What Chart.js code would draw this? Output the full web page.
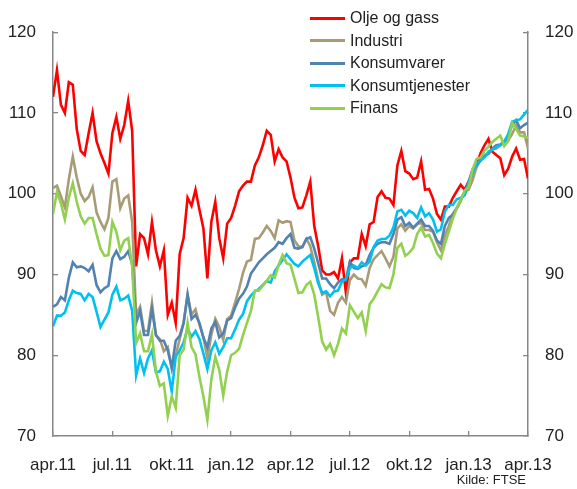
<!DOCTYPE html>
<html>
<head>
<meta charset="utf-8">
<script src="https://cdn.jsdelivr.net/npm/chart.js@4/dist/chart.umd.min.js"></script>
<style>
html,body{margin:0;padding:0;background:#fff;}
#wrap{position:relative;width:577px;height:489px;}
#legend{position:absolute;left:310px;top:7px;font-family:"Liberation Sans",Arial,sans-serif;font-size:16px;color:#222;}
.row{height:22.5px;display:flex;align-items:center;white-space:nowrap;}
.sw{width:35px;height:3px;margin-right:5px;}
#src{position:absolute;right:51px;top:472px;font-family:"Liberation Sans",Arial,sans-serif;font-size:13px;color:#222;}
</style>
</head>
<body>
<div id="wrap">
<canvas id="c" width="577" height="489"></canvas>
<div id="legend"></div>
<div id="src">Kilde: FTSE</div>
</div>
<script>
// ---- data ----
const tickLabels = ['apr.11','jul.11','okt.11','jan.12','apr.12','jul.12','okt.12','jan.13','apr.13'];
const yTicks = [70, 80, 90, 100, 110, 120];
const spanMonths = 24; // apr.11 .. apr.13
const seriesNames = ['Olje og gass','Industri','Konsumvarer','Konsumtjenester','Finans'];
const seriesColors = ['#FF0000','#A89C78','#5282B2','#00C0F0','#92D050'];

const olje = [
 112, 115.3, 111, 110, 113.8, 113.5, 108, 105.3, 104.8, 107.5,
 110, 106.5, 105, 103.8, 102.5, 107.5, 109.5, 106.8, 108.5, 111.5,
 107.8, 91, 95, 94.5, 92.5, 96.5, 93, 91, 93, 85,
 86.5, 84, 92.5, 94.5, 99.5, 98.5, 100.5, 98, 95.7, 89.5,
 96.5, 99, 94.5, 92, 96.3, 97, 98.5, 100.3, 101, 101.5,
 101.5, 103.5, 104.5, 106, 107.8, 107.3, 104, 105.5, 104.5, 104,
 102, 99.5, 98.2, 98.3, 99.8, 101.5, 96, 93.5, 90.5, 90,
 90, 90.3, 89.5, 92, 87.7, 91.5, 92, 92, 95, 93.5,
 96.2, 96.5, 99.6, 100.3, 99.5, 99.4, 98.6, 103.5, 105.3, 102.8,
 102.5, 101.8, 102, 104, 100.5, 100.6, 99.4, 97.5, 96.8, 98.4,
 98.4, 99.5, 100.3, 101.1, 100.5, 101.5, 102.3, 103.5, 105, 106,
 106.8, 105.2, 104.8, 104.4, 102.3, 103.1, 104.6, 105.6, 104.2, 104.3, 101.9
];
const industri = [
 100.7, 101, 99.7, 98.3, 101.8, 104.6, 102, 100, 99.1, 99.6,
 100.8, 97.7, 96.5, 95.6, 97, 101.5, 101.8, 98.2, 99.4, 99.8,
 96.5, 85, 86, 83, 83, 86.5, 82.5, 82, 80.5, 81,
 78.3, 80, 82, 84, 87.5, 85, 85.7, 83.8, 82.2, 79.6,
 82.5, 84.5, 83.5, 81.9, 84.5, 84.9, 86.5, 88.2, 90.2, 91.6,
 91.8, 94.4, 94.5, 95.2, 96, 95.4, 94.5, 96.7, 96.4, 96.6,
 96.5, 94.2, 93.5, 93.4, 94.4, 93.5, 91.5, 89.3, 87.5, 87.8,
 85.5, 85, 86.5, 87.2, 86.5, 89.3, 90, 89.5, 89.4, 88.6,
 90.8, 91.9, 92.4, 92.9, 92, 91, 92.2, 95.7, 96.2, 95.4,
 96, 95.7, 96.2, 96.4, 95.5, 95.5, 95.3, 94, 93, 94.8,
 96, 97.5, 98.2, 99.2, 100.3, 100.5, 101.7, 103.3, 104.2, 104.8,
 104.9, 105.5, 105.6, 106, 106.4, 106.6, 107.4, 108.5, 107.6, 107.6, 105.6
];
const konsumvarer = [
 86, 86.3, 87.2, 86.8, 89.6, 91.5, 90.9, 91, 90.8, 90.4,
 91.2, 88.7, 87.8, 88.3, 88.6, 92, 92.9, 91.9, 92.2, 92.9,
 91.3, 84, 85.5, 82.5, 82.5, 85.7, 82.5, 81.8, 81.8, 80.6,
 78.5, 81.8, 82.4, 84, 87.5, 84.5, 85, 84, 82.2, 81,
 83.3, 84.1, 82.2, 82.7, 84.3, 84.6, 85.9, 87, 87.6, 88.5,
 90.1, 90.8, 91.5, 92, 92.5, 92.9, 93.3, 94, 93.8, 94.5,
 95, 93.3, 93.2, 93.4, 94.4, 94.6, 93.2, 91.4, 89.5, 89.5,
 88.8, 88.3, 89, 89.4, 89.4, 91.6, 90.8, 90.7, 91, 91.2,
 92.4, 93.3, 93.8, 94, 94, 93.8, 95, 96.8, 97.1, 96,
 96.4, 95.8, 96.3, 96.8, 96, 96, 95.4, 94.2, 93.8, 96,
 97, 97.4, 98.2, 99.1, 100.2, 101.5, 103, 103.5, 104.1, 104.6,
 105, 105.6, 106, 106.1, 106.5, 107.2, 108.5, 109.1, 108.1, 108.5, 108.8
];
const konsumtjenester = [
 83.6, 84.9, 84.9, 85.3, 86.8, 88, 87.7, 87.6, 86.8, 87.6,
 87.2, 85.4, 83.5, 84.4, 85.3, 87.5, 88.5, 86.8, 87, 87.4,
 85.5, 77.5, 79.6, 77.8, 79.6, 80.6, 77.9, 78, 79.2, 78.3,
 75.5, 79.8, 80.6, 81.6, 83.3, 82.3, 83, 82, 80.2, 78.3,
 80.6, 81.6, 80.2, 81, 82.1, 82.1, 83.2, 84.4, 85.1, 86.7,
 87.4, 87.9, 88.2, 88.7, 89.2, 89, 90.4, 91.1, 91.8, 92.5,
 91.9, 91.3, 91, 91.6, 92, 92.4, 90.8, 88.9, 87.7, 87.9,
 87.3, 87.9, 88, 89.1, 89.4, 90.8, 91.1, 90.8, 91.5, 91.1,
 91.6, 93.4, 94.2, 94.4, 94.4, 94.8, 95.8, 97.8, 98, 97.3,
 97.9, 97.6, 97, 98.3, 97.2, 97.6, 96.8, 95.3, 95.6, 97.8,
 98.6, 98.6, 99.3, 99.5, 99.8, 101.2, 102.6, 103.7, 104.1, 104.5,
 105.2, 105.5, 105.8, 106, 106.4, 107.4, 108.9, 109.1, 109.2, 109.8, 110.4
];
const finans = [
 97.5, 100.2, 98.8, 96.8, 99.5, 101.3, 99, 97.2, 96.3, 97,
 97, 95, 93.2, 92.3, 92.4, 96.5, 95.3, 93, 94.2, 94.5,
 91, 81.5, 82.7, 80.5, 80.5, 82.6, 78, 76.2, 76.5, 72.5,
 74.9, 73.5, 80, 80.7, 84, 81, 80.1, 77.3, 74.9, 72,
 77, 79.8, 78.2, 75, 78, 80, 80.3, 80.8, 82.5, 84,
 85.5, 88, 88, 88.6, 89.2, 89.9, 89.6, 91.2, 92.4, 91.4,
 91.2, 89.5, 87.7, 87.8, 88.7, 89.1, 87.5, 84.7, 81.7, 80.7,
 81.4, 80, 81.4, 83.3, 82.7, 86.2, 85.4, 84.6, 85.3, 83,
 86.3, 87, 87.9, 88.8, 88.4, 88.3, 90, 93.3, 93.8, 92.3,
 92.7, 93.3, 95, 95.8, 94.7, 94.9, 93.9, 92.6, 92, 93.8,
 95.3, 96.9, 98.2, 99.2, 100.4, 100.8, 103, 104.3, 104.5, 105.3,
 105.8, 106.4, 106.8, 107.2, 105.9, 106.5, 108.8, 108, 107.2, 107.1, 106.9
];
const allSeries = [olje, industri, konsumvarer, konsumtjenester, finans];

// ---- chart ----
const FONT = '"Liberation Sans", Arial, sans-serif';
const axisColor = '#878787';
const textColor = '#222';

function toPoints(arr) {
  const step = spanMonths / (arr.length - 1);
  return arr.map((v, i) => ({ x: i * step, y: v }));
}

const datasets = allSeries.map((arr, k) => ({
  label: seriesNames[k],
  data: toPoints(arr),
  borderColor: seriesColors[k],
  backgroundColor: seriesColors[k],
  borderWidth: 2.6,
  pointRadius: 0,
  tension: 0,
  fill: false,
  yAxisID: 'y',
  order: allSeries.length - k
}));

function yAxis(pos, width) {
  return {
    type: 'linear',
    position: pos,
    min: yTicks[0],
    max: yTicks[yTicks.length - 1],
    afterFit(s) { s.width = width; },
    afterBuildTicks(s) { s.ticks = yTicks.map(v => ({ value: v })); },
    ticks: { padding: 22, color: textColor, font: { family: FONT, size: 17 } },
    grid: { drawOnChartArea: false, drawTicks: true, tickLength: -5, color: axisColor, lineWidth: 1.3 },
    border: { display: true, color: axisColor, width: 1.5 }
  };
}

new Chart(document.getElementById('c'), {
  type: 'line',
  data: { datasets },
  options: {
    responsive: false,
    animation: false,
    layout: { padding: { top: 29, left: 0, right: 0, bottom: 0 } },
    plugins: { legend: { display: false }, tooltip: { enabled: false } },
    scales: {
      x: {
        type: 'linear',
        position: 'bottom',
        min: 0,
        max: spanMonths,
        afterFit(s) { s.height = 53; },
        afterBuildTicks(s) { s.ticks = tickLabels.map((t, i) => ({ value: i * spanMonths / (tickLabels.length - 1) })); },
        ticks: {
          autoSkip: false, maxRotation: 0, padding: 24, color: textColor,
          font: { family: FONT, size: 17 },
          callback: (v, i) => tickLabels[i]
        },
        grid: { drawOnChartArea: false, drawTicks: true, tickLength: -5, color: axisColor, lineWidth: 1.3 },
        border: { display: true, color: axisColor, width: 1.5 }
      },
      y: yAxis('left', 53),
      y2: yAxis('right', 49)
    }
  }
});

// ---- legend (HTML) ----
const lg = document.getElementById('legend');
seriesNames.forEach((n, k) => {
  const row = document.createElement('div');
  row.className = 'row';
  const sw = document.createElement('span');
  sw.className = 'sw';
  sw.style.background = seriesColors[k];
  const tx = document.createElement('span');
  tx.textContent = n;
  row.appendChild(sw);
  row.appendChild(tx);
  lg.appendChild(row);
});
</script>
</body>
</html>
